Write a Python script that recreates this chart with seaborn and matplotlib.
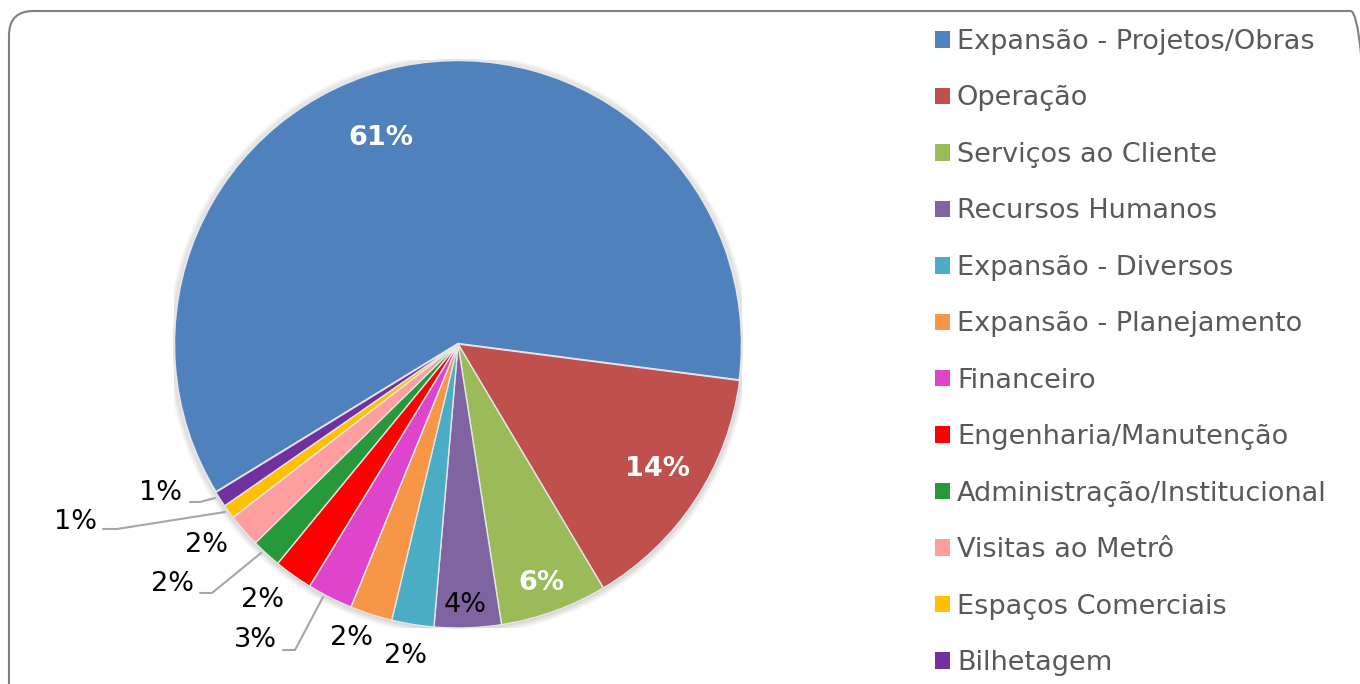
import matplotlib
matplotlib.use("Agg")
import matplotlib.pyplot as plt
from matplotlib.patches import FancyBboxPatch, Patch, Circle
import seaborn as sns

categories = [
    "Expansão - Projetos/Obras", "Operação", "Serviços ao Cliente",
    "Recursos Humanos", "Expansão - Diversos", "Expansão - Planejamento",
    "Financeiro", "Engenharia/Manutenção", "Administração/Institucional",
    "Visitas ao Metrô", "Espaços Comerciais", "Bilhetagem",
]
values = [60.8, 14.4, 6.1, 3.8, 2.4, 2.4, 2.6, 2.2, 1.7, 1.9, 0.8, 0.9]
colors = ["#4F81BD", "#C0504D", "#9BBB59", "#8064A2", "#4BACC6", "#F79646",
          "#DE45CC", "#FF0000", "#27993A", "#FF9E9E", "#FFC000", "#7030A0"]

# layout (pixels in the 1360x684 canvas)
W, H = 1360, 684
CX, CY, R = 458, 344, 284
label_px = [(381, 138), (658, 469), (541, 583), (465, 605), (405, 656),
            (351, 638), (255, 640), (262, 600), (172, 584), (206, 545),
            (75, 522), (160, 493)]
label_white = [True, True, True, False, False, False, False, False, False,
               False, False, False]
leaders = {
    6: [(283, 650), (295, 650), (323, 597)],
    8: [(200, 593), (212, 593), (261, 553)],
    10: [(103, 529), (117, 529), (225, 512)],
    11: [(190, 502), (200, 502), (215, 498)],
}

sns.set_theme(style="white")
plt.rcParams["font.family"] = ["DejaVu Sans"]
palette = sns.color_palette(colors)

fig = plt.figure(figsize=(W / 100, H / 100), dpi=100)
fig.patch.set_facecolor("white")

# rounded chart border
border = FancyBboxPatch((9 / W, 1 - 740 / H), (1375 - 9) / W, (740 - 11) / H,
                        boxstyle="round,pad=0,rounding_size=0.018",
                        transform=fig.transFigure, fill=False,
                        edgecolor="#7F7F7F", linewidth=1.5,
                        mutation_aspect=W / H)
fig.patches.append(border)

ax = fig.add_axes([(CX - R) / W, (H - CY - R) / H, 2 * R / W, 2 * R / H])

def to_data(p):
    return ((p[0] - CX) / R, (CY - p[1]) / R)

# soft shadow (glow around the pie)
for i in range(7):
    ax.add_patch(Circle((0, -1 / R), 1.0 + (i + 0.5) / R,
                        color="black", alpha=0.022, lw=0, zorder=0))

wedges, _ = ax.pie(values, colors=palette, startangle=211.5, counterclock=False,
                   radius=1.0, wedgeprops=dict(edgecolor="#E6E6E6", linewidth=1.0))
for w in wedges:
    w.set_zorder(2)
wedges[0].set_linewidth(1.8)

ax.set_xlim(-1, 1)
ax.set_ylim(-1, 1)
ax.set_aspect("equal")
ax.axis("off")

for i, v in enumerate(values):
    x, y = to_data(label_px[i])
    if label_white[i]:
        ax.text(x, y, f"{round(v)}%", ha="center", va="center", color="white",
                fontsize=19.5, fontweight="bold", zorder=5)
    else:
        ax.text(x, y, f"{round(v)}%", ha="center", va="center", color="black",
                fontsize=19.5, zorder=5, clip_on=False)
for i, pts in leaders.items():
    xs = [to_data(p)[0] for p in pts]
    ys = [to_data(p)[1] for p in pts]
    ax.plot(xs, ys, color="#A6A6A6", lw=1.5, zorder=4, clip_on=False)

handles = [Patch(facecolor=c, edgecolor="none") for c in palette]
leg = fig.legend(handles, categories, loc="upper left",
                 bbox_to_anchor=(935 / W, 1 - 29 / H), frameon=False,
                 fontsize=19.5, handlelength=0.56, handleheight=0.56,
                 handletextpad=0.25, labelspacing=1.125, borderpad=0,
                 borderaxespad=0, labelcolor="#595959")

fig.savefig("out.png", dpi=100, facecolor="white")
